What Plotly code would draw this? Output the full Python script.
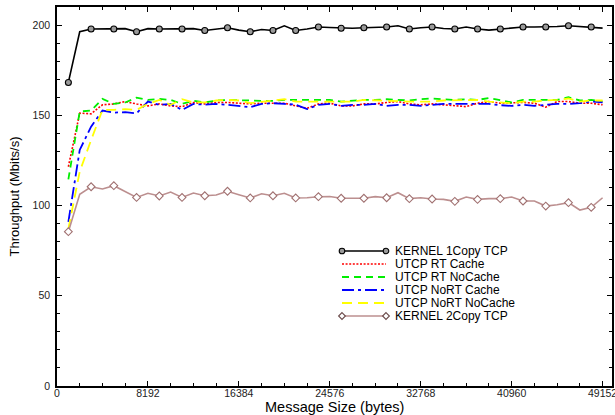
import plotly.graph_objects as go

# ---------------- data ----------------
msg_size = [1024 * k for k in range(1, 49)]

series_names = ["KERNEL 1Copy TCP", "UTCP RT Cache", "UTCP RT NoCache",
                "UTCP NoRT Cache", "UTCP NoRT NoCache", "KERNEL 2Copy TCP"]

kernel_1copy = [168.2, 196.3, 197.8, 198.0, 197.8, 198.0, 196.3, 198.0, 197.8, 198.0,
                197.8, 198.0, 197.0, 197.6, 198.5, 197.2, 196.3, 197.5, 197.0, 199.6,
                197.0, 197.8, 198.9, 198.6, 198.2, 198.2, 198.5, 198.6, 198.9, 199.6,
                197.8, 198.5, 198.9, 198.1, 197.8, 198.9, 197.8, 197.2, 197.8, 198.6,
                198.9, 198.9, 198.9, 199.2, 199.6, 199.1, 198.9, 198.3]

utcp_rt_cache = [121.5, 151.2, 150.8, 155.8, 156.3, 157.6, 156.3, 155.2, 156.3, 155.2,
                 154.8, 157.1, 156.3, 157.1, 157.1, 156.7, 156.3, 156.7, 156.7, 156.7,
                 155.2, 153.9, 156.3, 156.7, 155.2, 155.2, 156.3, 156.3, 157.1, 157.6,
                 156.3, 155.8, 156.3, 155.8, 155.2, 154.8, 156.7, 157.6, 156.7, 157.1,
                 157.1, 156.7, 154.5, 157.6, 157.6, 156.7, 156.7, 155.8]

utcp_rt_nocache = [114.5, 152.1, 152.6, 159.1, 156.3, 157.1, 159.8, 158.5, 159.1, 158.5,
                   156.3, 158.0, 157.1, 158.2, 158.5, 158.5, 158.2, 158.0, 158.0, 158.5,
                   158.5, 158.5, 158.2, 158.5, 157.6, 158.2, 158.5, 158.5, 158.9, 158.5,
                   158.2, 158.9, 159.3, 158.9, 158.5, 158.9, 158.5, 159.6, 158.2, 157.1,
                   158.5, 158.5, 158.2, 158.5, 160.0, 158.2, 158.5, 157.6]

utcp_nort_cache = [91.0, 130.8, 143.7, 152.6, 151.5, 151.7, 151.1, 157.6, 155.8, 156.3,
                   153.0, 156.3, 155.9, 156.3, 155.8, 155.2, 154.5, 156.3, 156.7, 156.3,
                   155.9, 153.4, 155.8, 156.3, 155.2, 155.8, 155.8, 156.3, 155.2, 155.8,
                   155.8, 155.2, 155.8, 156.3, 156.3, 156.3, 156.7, 156.3, 155.6, 155.2,
                   155.8, 155.2, 155.8, 156.3, 156.3, 156.7, 157.6, 157.1]

utcp_nort_nocache = [87.0, 118.8, 136.3, 153.0, 153.0, 153.4, 153.0, 156.3, 158.5, 155.8,
                     158.9, 157.1, 157.1, 158.2, 158.5, 158.2, 156.7, 157.6, 158.2, 158.9,
                     157.6, 157.6, 157.6, 157.6, 157.6, 157.6, 158.5, 158.2, 158.0, 157.6,
                     157.6, 157.6, 157.6, 158.2, 158.2, 158.5, 158.5, 157.6, 157.1, 156.7,
                     157.6, 157.6, 158.2, 158.5, 159.3, 157.6, 158.2, 158.2]

kernel_2copy = [85.5, 106.2, 110.4, 109.2, 111.0, 107.7, 104.5, 106.8, 105.3, 107.5,
                104.5, 106.9, 105.4, 105.8, 107.9, 106.0, 104.2, 106.5, 105.4, 106.8,
                104.2, 104.3, 104.9, 105.0, 104.0, 104.0, 104.0, 104.9, 104.3, 107.1,
                103.8, 104.3, 103.6, 103.4, 102.3, 104.7, 103.4, 103.8, 103.8, 104.7,
                102.5, 102.5, 99.7, 100.4, 101.6, 97.5, 99.0, 104.3]

x_tick_vals = [0, 8192, 16384, 24576, 32768, 40960, 49152]
y_tick_vals = [0, 50, 100, 150, 200]
x_title = "Message Size (bytes)"
y_title = "Throughput (Mbits/s)"

# ---------------- styles ----------------
FONT = "Liberation Sans, Arial, Helvetica, sans-serif"
marker_op = [1 if i % 2 == 0 else 0 for i in range(len(msg_size))]

styles = [
    dict(color="black", dash="solid", width=1.6, marker=dict(symbol="circle", size=6, color="#9a9a9a",
                                                             line=dict(color="black", width=1.1), opacity=marker_op)),
    dict(color="#ff0000", dash="2px,1.6px", width=1.6, marker=None),
    dict(color="#00ee00", dash="7px,5px", width=1.8, marker=None),
    dict(color="#0000ff", dash="12px,4px,3px,4px", width=1.8, marker=None),
    dict(color="#ffff00", dash="10px,6px", width=1.8, marker=None),
    dict(color="#bc8f8f", dash="solid", width=1.6, marker=dict(symbol="diamond", size=6, color="white",
                                                               line=dict(color="#a07070", width=1.1), opacity=marker_op)),
]
series_vals = [kernel_1copy, utcp_rt_cache, utcp_rt_nocache, utcp_nort_cache, utcp_nort_nocache, kernel_2copy]

fig = go.Figure()
draw_order = [1, 2, 3, 4, 0, 5]
for i in draw_order:
    st = styles[i]
    tr = dict(x=msg_size, y=series_vals[i], name=series_names[i], showlegend=False,
              line=dict(color=st["color"], dash=st["dash"], width=st["width"]))
    if st["marker"] is not None:
        tr["mode"] = "lines+markers"
        tr["marker"] = st["marker"]
    else:
        tr["mode"] = "lines"
    fig.add_trace(go.Scatter(**tr))

# ---------------- custom legend ----------------
L, R, T, B = 57, 3, 7, 29
W, H = 615, 415
PW, PH = W - L - R, H - T - B


def fx(px):
    return (px - L) / PW


def fy(py):
    return (H - B - py) / PH


rows_y = [251, 264, 277, 290, 303, 316]
x_a, x_b, x_t = 342, 386, 393
shapes = []
annotations = []
for i, name in enumerate(series_names):
    st = styles[i]
    yy = fy(rows_y[i])
    shapes.append(dict(type="line", xref="paper", yref="paper", x0=fx(x_a), x1=fx(x_b), y0=yy, y1=yy,
                       line=dict(color=st["color"], dash=st["dash"], width=st["width"])))
    if i == 0:
        for xp in (x_a, x_b):
            shapes.append(dict(type="circle", xref="paper", yref="paper", xsizemode="pixel", ysizemode="pixel",
                               xanchor=fx(xp), yanchor=yy, x0=-2.8, x1=2.8, y0=-2.8, y1=2.8,
                               fillcolor="#9a9a9a", line=dict(color="black", width=1.1)))
    if i == 5:
        for xp in (x_a, x_b):
            shapes.append(dict(type="path", xref="paper", yref="paper", xsizemode="pixel", ysizemode="pixel",
                               xanchor=fx(xp), yanchor=yy, path="M0,3.4 L3.4,0 L0,-3.4 L-3.4,0 Z",
                               fillcolor="white", line=dict(color="#6a4a4a", width=1.1)))
    annotations.append(dict(xref="paper", yref="paper", x=fx(x_t), y=yy, xanchor="left", yanchor="middle",
                            text=name, showarrow=False, font=dict(family=FONT, size=12, color="black")))

# x axis title placed just below the tick labels
annotations.append(dict(xref="paper", yref="paper", x=fx(334), y=fy(406.5), xanchor="center", yanchor="middle",
                        text=x_title, showarrow=False, font=dict(family=FONT, size=14.5, color="black")))

axis_common = dict(showline=True, linecolor="black", linewidth=1.5, mirror="ticks", ticks="inside",
                   tickcolor="black", tickwidth=1, showgrid=False, zeroline=False,
                   tickfont=dict(family=FONT, size=10.5, color="#222"))

fig.update_layout(
    width=W, height=H,
    margin=dict(l=L, r=R, t=T, b=B),
    paper_bgcolor="white", plot_bgcolor="white",
    shapes=shapes, annotations=annotations,
    xaxis=dict(range=[0, 50000], tickvals=x_tick_vals, ticktext=[str(v) for v in x_tick_vals], ticklen=5,
               minor=dict(dtick=2048, tick0=0, ticks="inside", ticklen=3, tickcolor="black", tickwidth=1),
               ticklabelstandoff=-3, ticklabeloverflow="allow", automargin=False,
               **axis_common),
    yaxis=dict(range=[0, 210], tickvals=y_tick_vals, ticktext=[str(v) for v in y_tick_vals], ticklen=5,
               minor=dict(dtick=10, tick0=0, ticks="inside", ticklen=3, tickcolor="black", tickwidth=1),
               title=dict(text=y_title, font=dict(family=FONT, size=13, color="black"), standoff=10),
               ticklabelstandoff=3, automargin=False,
               **axis_common),
)

fig.write_html("out.html", config={"displayModeBar": False},
               post_script="document.body.style.margin='0px';document.body.style.padding='0px';"
                           "document.body.style.overflow='hidden';")
